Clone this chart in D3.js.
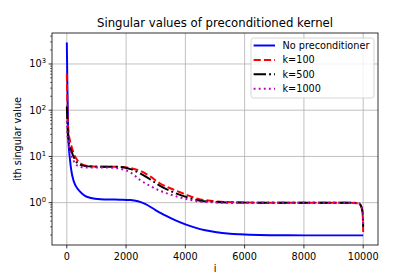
<!DOCTYPE html>
<html>
<head>
<meta charset="utf-8">
<script src="https://cdn.jsdelivr.net/npm/d3@7"></script>
<style>
  body { margin: 0; background: #fff; }
  text { font-family: "DejaVu Sans", sans-serif; fill: #000; }
</style>
</head>
<body>
<script>
// values
const idxBlue = [0, 20, 50, 108, 160, 220, 300, 390, 500, 615, 780, 950, 1400, 1800, 2150, 2400, 2640, 2980, 3320, 3650, 4000, 4330, 4670, 5000, 5510, 5840, 6500, 7500, 8500, 10000]
const noPrecond = [2900, 300, 27, 8.4, 4.6, 3.1, 2.3, 1.9, 1.6, 1.4, 1.28, 1.22, 1.17, 1.16, 1.14, 1.07, 0.94, 0.7, 0.53, 0.42, 0.34, 0.288, 0.253, 0.232, 0.213, 0.207, 0.2, 0.197, 0.196, 0.196]

const idxK = [0, 20, 50, 108, 165, 220, 277, 330, 390, 445, 500, 730, 1100, 1500, 1800, 2150, 2470, 2810, 3150, 3490, 3820, 4160, 4500, 4840, 5180, 5600, 6500, 8000, 9500, 9850, 9920, 9960, 9990, 10000]
const k100 = [620, 120, 37, 22, 16, 12.5, 10, 8.8, 7.7, 7.2, 6.8, 6.2, 6.0, 6.0, 5.95, 5.6, 4.9, 3.7, 2.6, 2.05, 1.68, 1.38, 1.18, 1.1, 1.05, 1.02, 1.0, 1.0, 1.0, 0.97, 0.85, 0.7, 0.45, 0.22]
const k500 = [120, 50, 24, 16, 12.5, 10, 8.6, 7.5, 7.0, 6.6, 6.4, 6.1, 6.0, 6.0, 5.9, 5.3, 4.3, 3.2, 2.3, 1.8, 1.47, 1.25, 1.1, 1.05, 1.02, 1.01, 1.0, 1.0, 1.0, 0.97, 0.87, 0.75, 0.5, 0.3]
const k1000 = [60, 30, 19, 13, 10, 8.3, 7.1, 6.5, 6.2, 6.0, 5.85, 5.75, 5.75, 5.7, 5.4, 4.5, 3.1, 2.3, 1.8, 1.5, 1.3, 1.15, 1.05, 1.02, 1.0, 1.0, 1.0, 1.0, 1.0, 0.97, 0.88, 0.76, 0.55, 0.33]

const xTicks = [0, 2000, 4000, 6000, 8000, 10000]
const yTicks = [0, 1, 2, 3] // exponents of ten

const series = [
  { name: "No preconditioner", idx: idxBlue, vals: noPrecond, color: "#0000ff", dash: null },
  { name: "k=100", idx: idxK, vals: k100, color: "#ff0000", dash: "7.2,3.1" },
  { name: "k=500", idx: idxK, vals: k500, color: "#000000", dash: "12.4,3.1,1.9,3.1" },
  { name: "k=1000", idx: idxK, vals: k1000, color: "#bf00bf", dash: "1.9,3.2" },
]

const W = 420, H = 280
const margin = { top: 33, right: 42, bottom: 35, left: 52 }
const width = W - margin.left - margin.right
const height = H - margin.top - margin.bottom

const svg = d3.select("body").append("svg")
  .attr("width", W)
  .attr("height", H)

const g = svg.append("g")
  .attr("transform", `translate(${margin.left},${margin.top})`)

const x = d3.scaleLinear().domain([-500, 10500]).range([0, width])
const y = d3.scaleLog().domain([Math.pow(10, -0.916), Math.pow(10, 3.67)]).range([height, 0])

// grid
g.append("g").selectAll("line").data(xTicks).join("line")
  .attr("x1", d => x(d)).attr("x2", d => x(d))
  .attr("y1", 0).attr("y2", height)
  .attr("stroke", "#b0b0b0").attr("stroke-width", 0.8)
g.append("g").selectAll("line").data(yTicks).join("line")
  .attr("y1", d => y(Math.pow(10, d))).attr("y2", d => y(Math.pow(10, d)))
  .attr("x1", 0).attr("x2", width)
  .attr("stroke", "#b0b0b0").attr("stroke-width", 0.8)

// lines
const line = d3.line()
  .x(d => x(d[0]))
  .y(d => y(d[1]))
  .curve(d3.curveMonotoneX)

const plot = g.append("g")
series.forEach(s => {
  plot.append("path")
    .datum(s.idx.map((v, i) => [v, s.vals[i]]))
    .attr("d", line)
    .attr("fill", "none")
    .attr("stroke", s.color)
    .attr("stroke-width", 1.95)
    .attr("stroke-dasharray", s.dash)
})

// frame
g.append("rect")
  .attr("width", width).attr("height", height)
  .attr("fill", "none").attr("stroke", "#000").attr("stroke-width", 0.8)

// x axis
const xAxis = g.append("g").attr("transform", `translate(0,${height})`)
xAxis.selectAll("line").data(xTicks).join("line")
  .attr("x1", d => x(d)).attr("x2", d => x(d))
  .attr("y1", 0).attr("y2", 3.4)
  .attr("stroke", "#000").attr("stroke-width", 0.8)
xAxis.selectAll("text").data(xTicks).join("text")
  .attr("x", d => x(d)).attr("y", 15)
  .attr("text-anchor", "middle")
  .attr("font-size", 9.7)
  .text(d => d)

// y axis, major + minor ticks
const yAxis = g.append("g")
const minor = []
for (let e = -1; e <= 3; e++) {
  for (let m = 2; m <= 9; m++) {
    const v = m * Math.pow(10, e)
    if (v > y.domain()[0] && v < y.domain()[1]) minor.push(v)
  }
}
yAxis.selectAll("line.minor").data(minor).join("line")
  .attr("class", "minor")
  .attr("x1", -1.9).attr("x2", 0)
  .attr("y1", d => y(d)).attr("y2", d => y(d))
  .attr("stroke", "#000").attr("stroke-width", 0.6)
yAxis.selectAll("line.major").data(yTicks).join("line")
  .attr("class", "major")
  .attr("x1", -3.4).attr("x2", 0)
  .attr("y1", d => y(Math.pow(10, d))).attr("y2", d => y(Math.pow(10, d)))
  .attr("stroke", "#000").attr("stroke-width", 0.8)
const yl = yAxis.selectAll("text").data(yTicks).join("text")
  .attr("x", -6).attr("y", d => y(Math.pow(10, d)) + 3.5)
  .attr("text-anchor", "end")
  .attr("font-size", 9.7)
yl.append("tspan").text("10")
yl.append("tspan").attr("font-size", 6.8).attr("dy", -4).text(d => d)

// labels
svg.append("text")
  .attr("x", margin.left + width / 2).attr("y", 27)
  .attr("text-anchor", "middle")
  .attr("font-size", 11.7)
  .text("Singular values of preconditioned kernel")
svg.append("text")
  .attr("x", margin.left + width / 2).attr("y", 271.5)
  .attr("text-anchor", "middle")
  .attr("font-size", 9.7)
  .text("i")
svg.append("text")
  .attr("transform", `translate(21,${margin.top + height / 2}) rotate(-90)`)
  .attr("text-anchor", "middle")
  .attr("font-size", 9.7)
  .text("ith singular value")

// legend
const lg = g.append("g").attr("transform", `translate(${width - 127},5)`)
lg.append("rect")
  .attr("width", 123).attr("height", 60)
  .attr("rx", 2.5)
  .attr("fill", "#fff").attr("fill-opacity", 0.8)
  .attr("stroke", "#cccccc").attr("stroke-width", 0.8)
series.forEach((s, i) => {
  const yy = 7.5 + i * 14.4
  lg.append("line")
    .attr("x1", 2.6).attr("x2", 24)
    .attr("y1", yy).attr("y2", yy)
    .attr("stroke", s.color).attr("stroke-width", 1.95)
    .attr("stroke-dasharray", s.dash)
  lg.append("text")
    .attr("x", 31.5).attr("y", yy + 3.5)
    .attr("font-size", 9.7)
    .text(s.name)
})
</script>
</body>
</html>
